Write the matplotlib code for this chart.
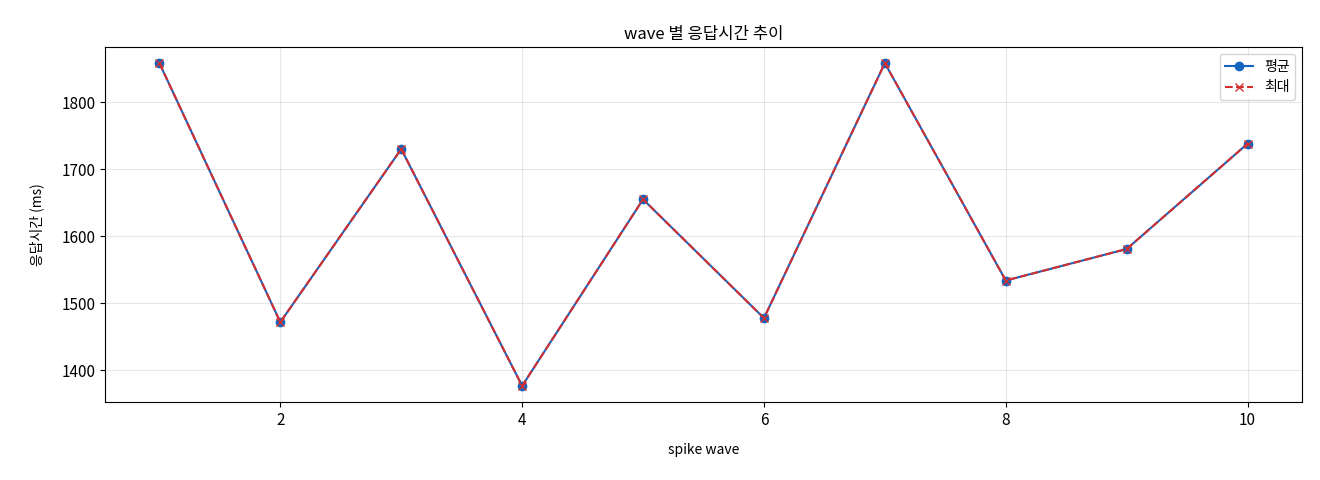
import matplotlib
matplotlib.use("Agg")
import matplotlib.pyplot as plt

plt.rcParams['font.family'] = ['Noto Sans CJK KR', 'DejaVu Sans']

waves = [1, 2, 3, 4, 5, 6, 7, 8, 9, 10]
avg_ms = [1858, 1472, 1730, 1377, 1655, 1478, 1858, 1534, 1581, 1738]
max_ms = [1858, 1472, 1730, 1377, 1655, 1478, 1858, 1534, 1581, 1738]

fig = plt.figure(figsize=(13.2, 4.8), dpi=100)
ax = fig.add_axes([105/1320, 1-402/480, (1302-105)/1320, (402-47)/480])
ax.plot(waves, avg_ms, '-o', color='#1565c0', label='평균', markersize=6)
ax.plot(waves, max_ms, '--x', color='#d32f2f', label='최대', markersize=6)
ax.set_title('wave 별 응답시간 추이', fontsize=12)
ax.set_xlabel('spike wave', fontsize=10, labelpad=10)
ax.set_ylabel('응답시간 (ms)', fontsize=10, labelpad=12)
ax.set_yticks([1400, 1500, 1600, 1700, 1800])
ax.tick_params(labelsize=11)
ax.grid(True, alpha=0.3)
ax.legend(loc='upper right')
fig.savefig('out.png', dpi=100)
